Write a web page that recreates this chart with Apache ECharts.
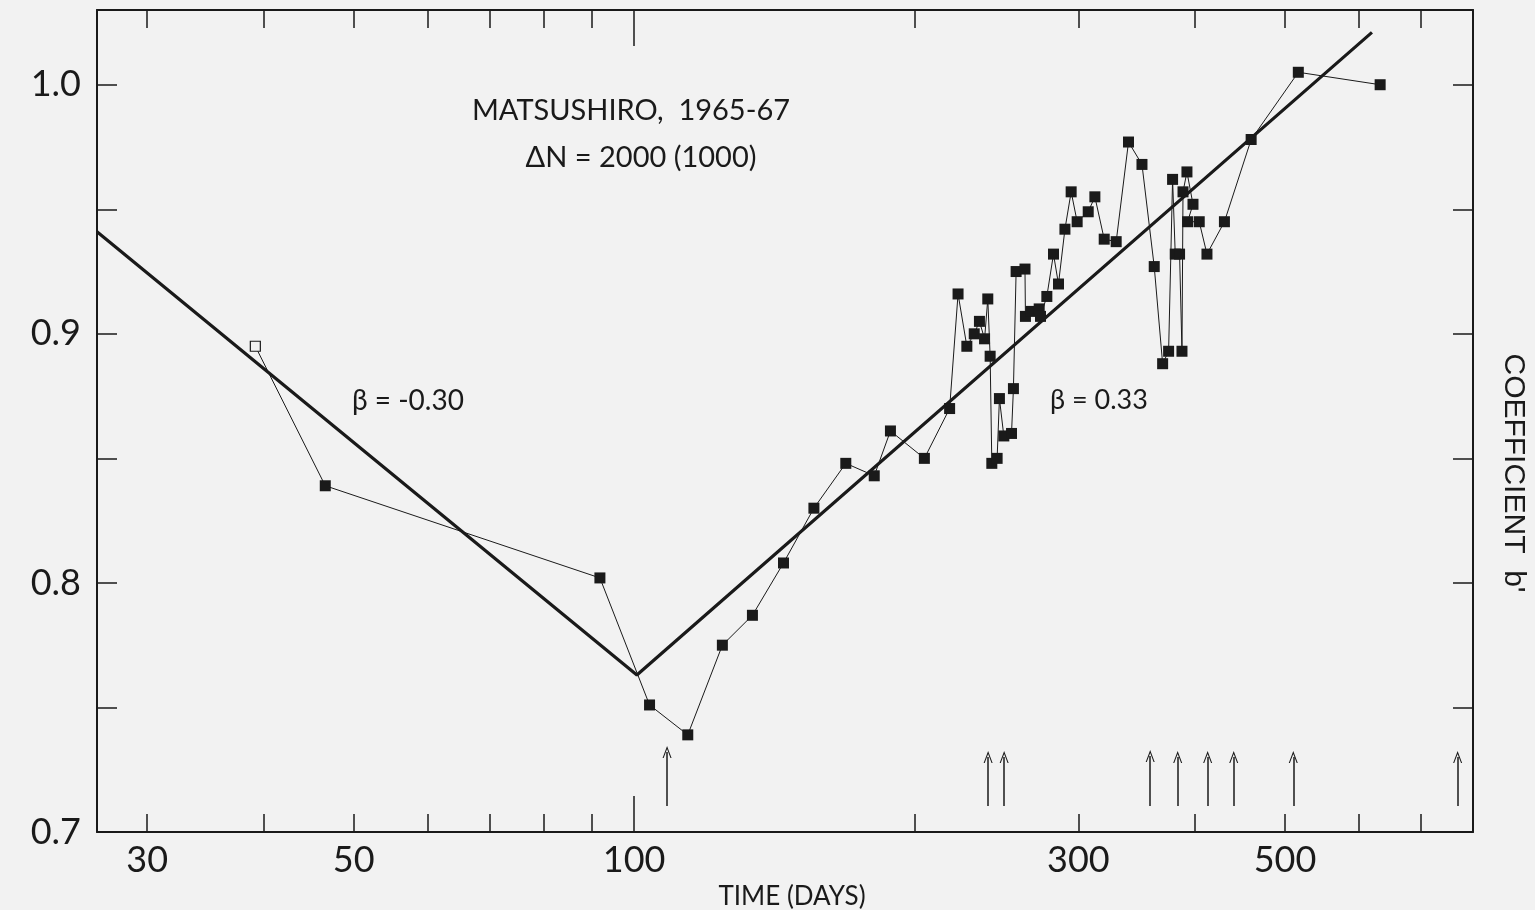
<!DOCTYPE html>
<html>
<head>
<meta charset="utf-8">
<script src="https://cdn.jsdelivr.net/npm/echarts@6/dist/echarts.min.js"></script>
<style>
  html, body { margin: 0; padding: 0; background: #f2f2f2; }
  #chart { width: 1535px; height: 910px; }
</style>
</head>
<body>
<div id="chart"></div>
<script>
// time (days) and coefficient b' of each point
var days = [39.2, 46.6, 91.9, 103.9, 114.2, 124.4, 134.0, 144.7, 156.0, 168.8, 181.1, 188.5, 205.0,
  218.2, 222.8, 227.7, 231.9, 234.9, 237.9, 239.8, 241.2, 242.2, 245.4, 246.8, 249.5, 254.3, 255.5,
  257.2, 262.9, 263.2, 266.8, 272.3, 273.2, 277.5, 282.1, 285.6, 290.2, 294.7, 299.1, 307.4, 312.5,
  319.8, 329.4, 339.6, 351.1, 361.9, 369.5, 375.0, 378.7, 381.2, 385.3, 387.6, 388.6, 392.4, 398.3,
  393.0, 404.5, 412.3, 430.5, 459.9, 516.8, 632.7];
var coef = [0.895, 0.839, 0.802, 0.751, 0.739, 0.775, 0.787, 0.808, 0.830, 0.848, 0.843, 0.861, 0.850,
  0.870, 0.916, 0.895, 0.900, 0.905, 0.898, 0.914, 0.891, 0.848, 0.850, 0.874, 0.859, 0.860, 0.878,
  0.925, 0.926, 0.907, 0.909, 0.910, 0.907, 0.915, 0.932, 0.920, 0.942, 0.957, 0.945, 0.949, 0.955,
  0.938, 0.937, 0.977, 0.968, 0.927, 0.888, 0.893, 0.962, 0.932, 0.932, 0.893, 0.957, 0.965, 0.952,
  0.945, 0.945, 0.932, 0.945, 0.978, 1.005, 1.000];
var hollowIndex = [0];

// fitted lines (beta = -0.30 and 0.33)
var fitDays = [26.5, 100.7, 620];
var fitCoef = [0.941, 0.763, 1.021];

// arrows along the bottom
var arrowDays = [108.5, 240.0, 249.7, 358.3, 383.5, 413.0, 440.5, 510.4, 766.3];
var arrowLow = [0.7104, 0.7104, 0.7104, 0.7104, 0.7104, 0.7104, 0.7104, 0.7104, 0.7104];
var arrowHigh = [0.7321, 0.7301, 0.7301, 0.7305, 0.7301, 0.7301, 0.7301, 0.7301, 0.7301];

var xLabels = [30, 50, 100, 300, 500];
var xTicks = [30, 40, 50, 60, 70, 80, 90, 200, 300, 400, 500, 600, 700];
var xLongTicks = [100];

var ink = '#1a1a1a';
var font = 'Lato';

var chart = echarts.init(document.getElementById('chart'));

var pts = days.map(function (d, i) {
  var item = { value: [d, coef[i]] };
  if (hollowIndex.indexOf(i) >= 0) {
    item.symbolSize = 10;
    item.itemStyle = { color: '#f2f2f2', borderColor: ink, borderWidth: 1.2 };
  }
  return item;
});

var fit = fitDays.map(function (d, i) { return [d, fitCoef[i]]; });

var arrows = arrowDays.map(function (d, i) {
  return [{ coord: [d, arrowLow[i]] }, { coord: [d, arrowHigh[i]] }];
});

function xAxisDef(pos, ticks, len, labels) {
  return {
    type: 'log',
    logBase: 10,
    min: 26.5,
    max: 796,
    position: pos,
    axisLine: { show: labels, lineStyle: { color: ink, width: 2 } },
    axisTick: { show: true, inside: true, length: len, customValues: ticks, lineStyle: { color: ink, width: 1.5 } },
    axisLabel: { show: labels && pos === 'bottom', customValues: xLabels, margin: 10,
      color: ink, fontFamily: font, fontSize: 36 },
    splitLine: { show: false },
    minorTick: { show: false }
  };
}

var xAxes = [
  xAxisDef('bottom', xTicks, 18, true),
  xAxisDef('top', xTicks, 18, true),
  xAxisDef('bottom', xLongTicks, 36, false),
  xAxisDef('top', xLongTicks, 36, false)
];
xAxes[0].name = 'TIME (DAYS)';
xAxes[0].nameLocation = 'middle';
xAxes[0].nameGap = 52;
xAxes[0].nameTextStyle = { color: ink, fontFamily: font, fontSize: 26, padding: [0, 0, 0, 14] };

function yAxisDef(pos) {
  return {
    type: 'value',
    min: 0.7,
    max: 1.03,
    interval: 0.05,
    position: pos,
    axisLine: { show: true, lineStyle: { color: ink, width: 2 } },
    axisTick: { show: true, inside: true, length: 20, lineStyle: { color: ink, width: 1.5 } },
    axisLabel: {
      show: pos === 'left',
      showMaxLabel: false,
      margin: 16,
      color: ink, fontFamily: font, fontSize: 36,
      formatter: function (v) {
        return Math.abs(v * 10 - Math.round(v * 10)) < 1e-6 ? v.toFixed(1) : '';
      }
    },
    splitLine: { show: false }
  };
}

var yRight = yAxisDef('right');
yRight.name = "COEFFICIENT  b'";
yRight.nameLocation = 'middle';
yRight.nameRotate = -90;
yRight.nameGap = 25;
yRight.nameTextStyle = { color: ink, fontFamily: 'Liberation Sans', fontSize: 30, padding: [0, 0, 0, 104] };

var textStyle = { color: ink, fontFamily: font, fontSize: 29, fontWeight: 'normal' };

chart.setOption({
  backgroundColor: '#f2f2f2',
  animation: false,
  grid: { left: 97, right: 62, top: 10, bottom: 78, containLabel: false, outerBoundsMode: 'none' },
  title: [
    { text: 'MATSUSHIRO,  1965-67', left: 626, top: 91, textAlign: 'center', textStyle: textStyle },
    { text: '\u0394N = 2000 (1000)', left: 636, top: 138, textAlign: 'center', textStyle: textStyle },
    { text: '\u03b2 = -0.30', left: 347, top: 382,
      textStyle: { color: ink, fontFamily: font, fontSize: 28, fontWeight: 'normal' } },
    { text: '\u03b2 = 0.33', left: 1045, top: 382,
      textStyle: { color: ink, fontFamily: font, fontSize: 27, fontWeight: 'normal' } }
  ],
  xAxis: xAxes,
  yAxis: [yAxisDef('left'), yRight],
  series: [
    {
      name: 'fit',
      type: 'line',
      xAxisIndex: 0,
      yAxisIndex: 0,
      data: fit,
      showSymbol: false,
      symbol: 'none',
      lineStyle: { color: ink, width: 3.2 },
      silent: true,
      markLine: {
        silent: true,
        symbol: ['none', 'path://M0,12 L5,0 L10,12 L8.8,12 L5,3 L1.2,12 Z'],
        symbolSize: [9, 12],
        label: { show: false },
        lineStyle: { color: ink, width: 1.5, type: 'solid' },
        data: arrows
      }
    },
    {
      name: 'b',
      type: 'line',
      xAxisIndex: 0,
      yAxisIndex: 0,
      data: pts,
      symbol: 'rect',
      symbolSize: 11,
      showAllSymbol: true,
      itemStyle: { color: ink },
      lineStyle: { color: ink, width: 1 },
      z: 3
    }
  ]
});
</script>
</body>
</html>
